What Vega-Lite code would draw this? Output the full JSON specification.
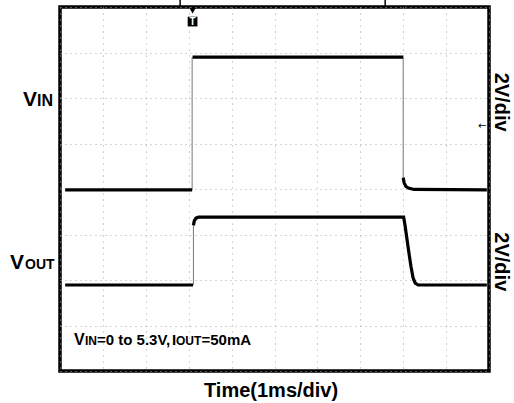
{
  "$schema": "https://vega.github.io/schema/vega-lite/v6.json",
  "width": 429,
  "height": 364,
  "autosize": "none",
  "padding": {"top": 7, "left": 60, "right": 25, "bottom": 32},
  "background": "white",
  "config": {
    "view": {"stroke": "black", "strokeWidth": 3.5},
    "text": {"font": "Liberation Sans", "fontWeight": "bold", "color": "black"}
  },
  "datasets": {
    "levels": [
      {"seg": "vin_low1", "t": 0.12, "v": 3.98},
      {"seg": "vin_low1", "t": 3.08, "v": 3.98},
      {"seg": "vin_high", "t": 3.09, "v": 6.9},
      {"seg": "vin_high", "t": 8.0, "v": 6.9},
      {"seg": "vin_low2", "t": 8.0, "v": 4.25},
      {"seg": "vin_low2", "t": 8.02, "v": 4.14},
      {"seg": "vin_low2", "t": 8.06, "v": 4.06},
      {"seg": "vin_low2", "t": 8.12, "v": 4.02},
      {"seg": "vin_low2", "t": 8.25, "v": 3.99},
      {"seg": "vin_low2", "t": 9.95, "v": 3.98},
      {"seg": "vout_low1", "t": 0.12, "v": 1.89},
      {"seg": "vout_low1", "t": 3.1, "v": 1.89},
      {"seg": "vout_high", "t": 3.11, "v": 3.2},
      {"seg": "vout_high", "t": 3.13, "v": 3.3},
      {"seg": "vout_high", "t": 3.17, "v": 3.36},
      {"seg": "vout_high", "t": 3.23, "v": 3.38},
      {"seg": "vout_high", "t": 8.01, "v": 3.38},
      {"seg": "vout_high", "t": 8.04, "v": 3.22},
      {"seg": "vout_high", "t": 8.08, "v": 2.95},
      {"seg": "vout_high", "t": 8.13, "v": 2.62},
      {"seg": "vout_high", "t": 8.18, "v": 2.3},
      {"seg": "vout_high", "t": 8.23, "v": 2.05},
      {"seg": "vout_high", "t": 8.28, "v": 1.93},
      {"seg": "vout_high", "t": 8.35, "v": 1.89},
      {"seg": "vout_high", "t": 9.95, "v": 1.89}
    ],
    "edges": [
      {"seg": "vin_up", "t": 3.08, "v": 3.98},
      {"seg": "vin_up", "t": 3.08, "v": 6.9},
      {"seg": "vin_down", "t": 8.0, "v": 6.9},
      {"seg": "vin_down", "t": 8.0, "v": 4.25},
      {"seg": "vout_up", "t": 3.11, "v": 1.89},
      {"seg": "vout_up", "t": 3.11, "v": 3.2}
    ]
  },
  "encoding": {
    "x": {"field": "t", "type": "quantitative", "scale": {"domain": [0, 10], "nice": false, "zero": false},
      "axis": {"values": [0,1,2,3,4,5,6,7,8,9,10], "grid": true, "gridColor": "#a8a8a8", "gridDash": [1, 5], "gridWidth": 1, "labels": false, "ticks": false, "domain": false, "title": null}},
    "y": {"field": "v", "type": "quantitative", "scale": {"domain": [0, 8], "nice": false, "zero": false},
      "axis": {"values": [0,1,2,3,4,5,6,7,8], "grid": true, "gridColor": "#a8a8a8", "gridDash": [1, 4], "gridWidth": 1, "labels": false, "ticks": false, "domain": false, "title": null}}
  },
  "layer": [
    {
      "data": {"name": "edges"},
      "mark": {"type": "line", "color": "#777777", "strokeWidth": 1},
      "encoding": {"detail": {"field": "seg"}}
    },
    {
      "data": {"name": "levels"},
      "mark": {"type": "line", "color": "black", "strokeWidth": 3.2},
      "encoding": {"detail": {"field": "seg"}}
    },
    {
      "data": {"values": [{"t": 2.8, "v": 8.0, "v2": 8.17}, {"t": 7.58, "v": 8.0, "v2": 8.17}]},
      "mark": {"type": "rule", "color": "black", "strokeWidth": 1.5, "clip": false},
      "encoding": {"y2": {"field": "v2"}}
    },
    {
      "data": {"values": [{"t": 3.09, "v": 7.92}]},
      "mark": {"type": "point", "shape": "triangle-down", "filled": true, "color": "black", "size": 40, "opacity": 1},
      "encoding": {}
    },
    {
      "data": {"values": [{"t": 3.09, "v": 7.68}]},
      "mark": {"type": "point", "shape": "square", "filled": true, "color": "black", "size": 95, "opacity": 1},
      "encoding": {}
    },
    {
      "data": {"values": [{"t": 3.09, "v": 7.68, "label": "T"}]},
      "mark": {"type": "text", "color": "white", "fontSize": 10, "align": "center", "baseline": "middle"},
      "encoding": {"text": {"field": "label"}}
    },
    {
      "data": {"values": [{"t": 9.84, "v": 5.38, "label": "←"}]},
      "mark": {"type": "text", "fontSize": 10, "fontWeight": "normal", "font": "DejaVu Sans", "align": "center", "baseline": "middle"},
      "encoding": {"text": {"field": "label"}}
    },
    {
      "data": {"values": [{"t": -0.862, "v": 5.824, "label": "V"}, {"t": -1.166, "v": 2.242, "label": "V"}]},
      "mark": {"type": "text", "fontSize": 21, "align": "left", "baseline": "alphabetic", "clip": false},
      "encoding": {"text": {"field": "label"}}
    },
    {
      "data": {"values": [{"t": -0.536, "v": 5.824, "label": "IN"}, {"t": 0.326, "v": 0.571, "label": "V"}]},
      "mark": {"type": "text", "fontSize": 16, "align": "left", "baseline": "alphabetic", "clip": false},
      "encoding": {"text": {"field": "label"}}
    },
    {
      "data": {"values": [{"t": -0.816, "v": 2.242, "label": "OUT"}]},
      "mark": {"type": "text", "fontSize": 14, "align": "left", "baseline": "alphabetic", "clip": false},
      "encoding": {"text": {"field": "label"}}
    },
    {
      "data": {"values": [{"t": 0.583, "v": 0.571, "label": "IN"}, {"t": 2.704, "v": 0.571, "label": "OUT"}]},
      "mark": {"type": "text", "fontSize": 12, "align": "left", "baseline": "alphabetic"},
      "encoding": {"text": {"field": "label"}}
    },
    {
      "data": {"values": [{"t": 0.862, "v": 0.571, "label": "=0 to 5.3V,"}, {"t": 2.611, "v": 0.571, "label": "I"}, {"t": 3.298, "v": 0.571, "label": "=50mA"}]},
      "mark": {"type": "text", "fontSize": 15, "align": "left", "baseline": "alphabetic"},
      "encoding": {"text": {"field": "label"}}
    },
    {
      "data": {"values": [{"t": 10.28, "v": 5.91, "label": "2V/div"}, {"t": 10.28, "v": 2.4, "label": "2V/div"}]},
      "mark": {"type": "text", "fontSize": 20, "angle": 90, "align": "center", "baseline": "middle", "clip": false},
      "encoding": {"text": {"field": "label"}}
    },
    {
      "data": {"values": [{"t": 4.92, "v": -0.571, "label": "Time(1ms/div)"}]},
      "mark": {"type": "text", "fontSize": 20, "align": "center", "baseline": "alphabetic", "clip": false},
      "encoding": {"text": {"field": "label"}}
    }
  ]
}
